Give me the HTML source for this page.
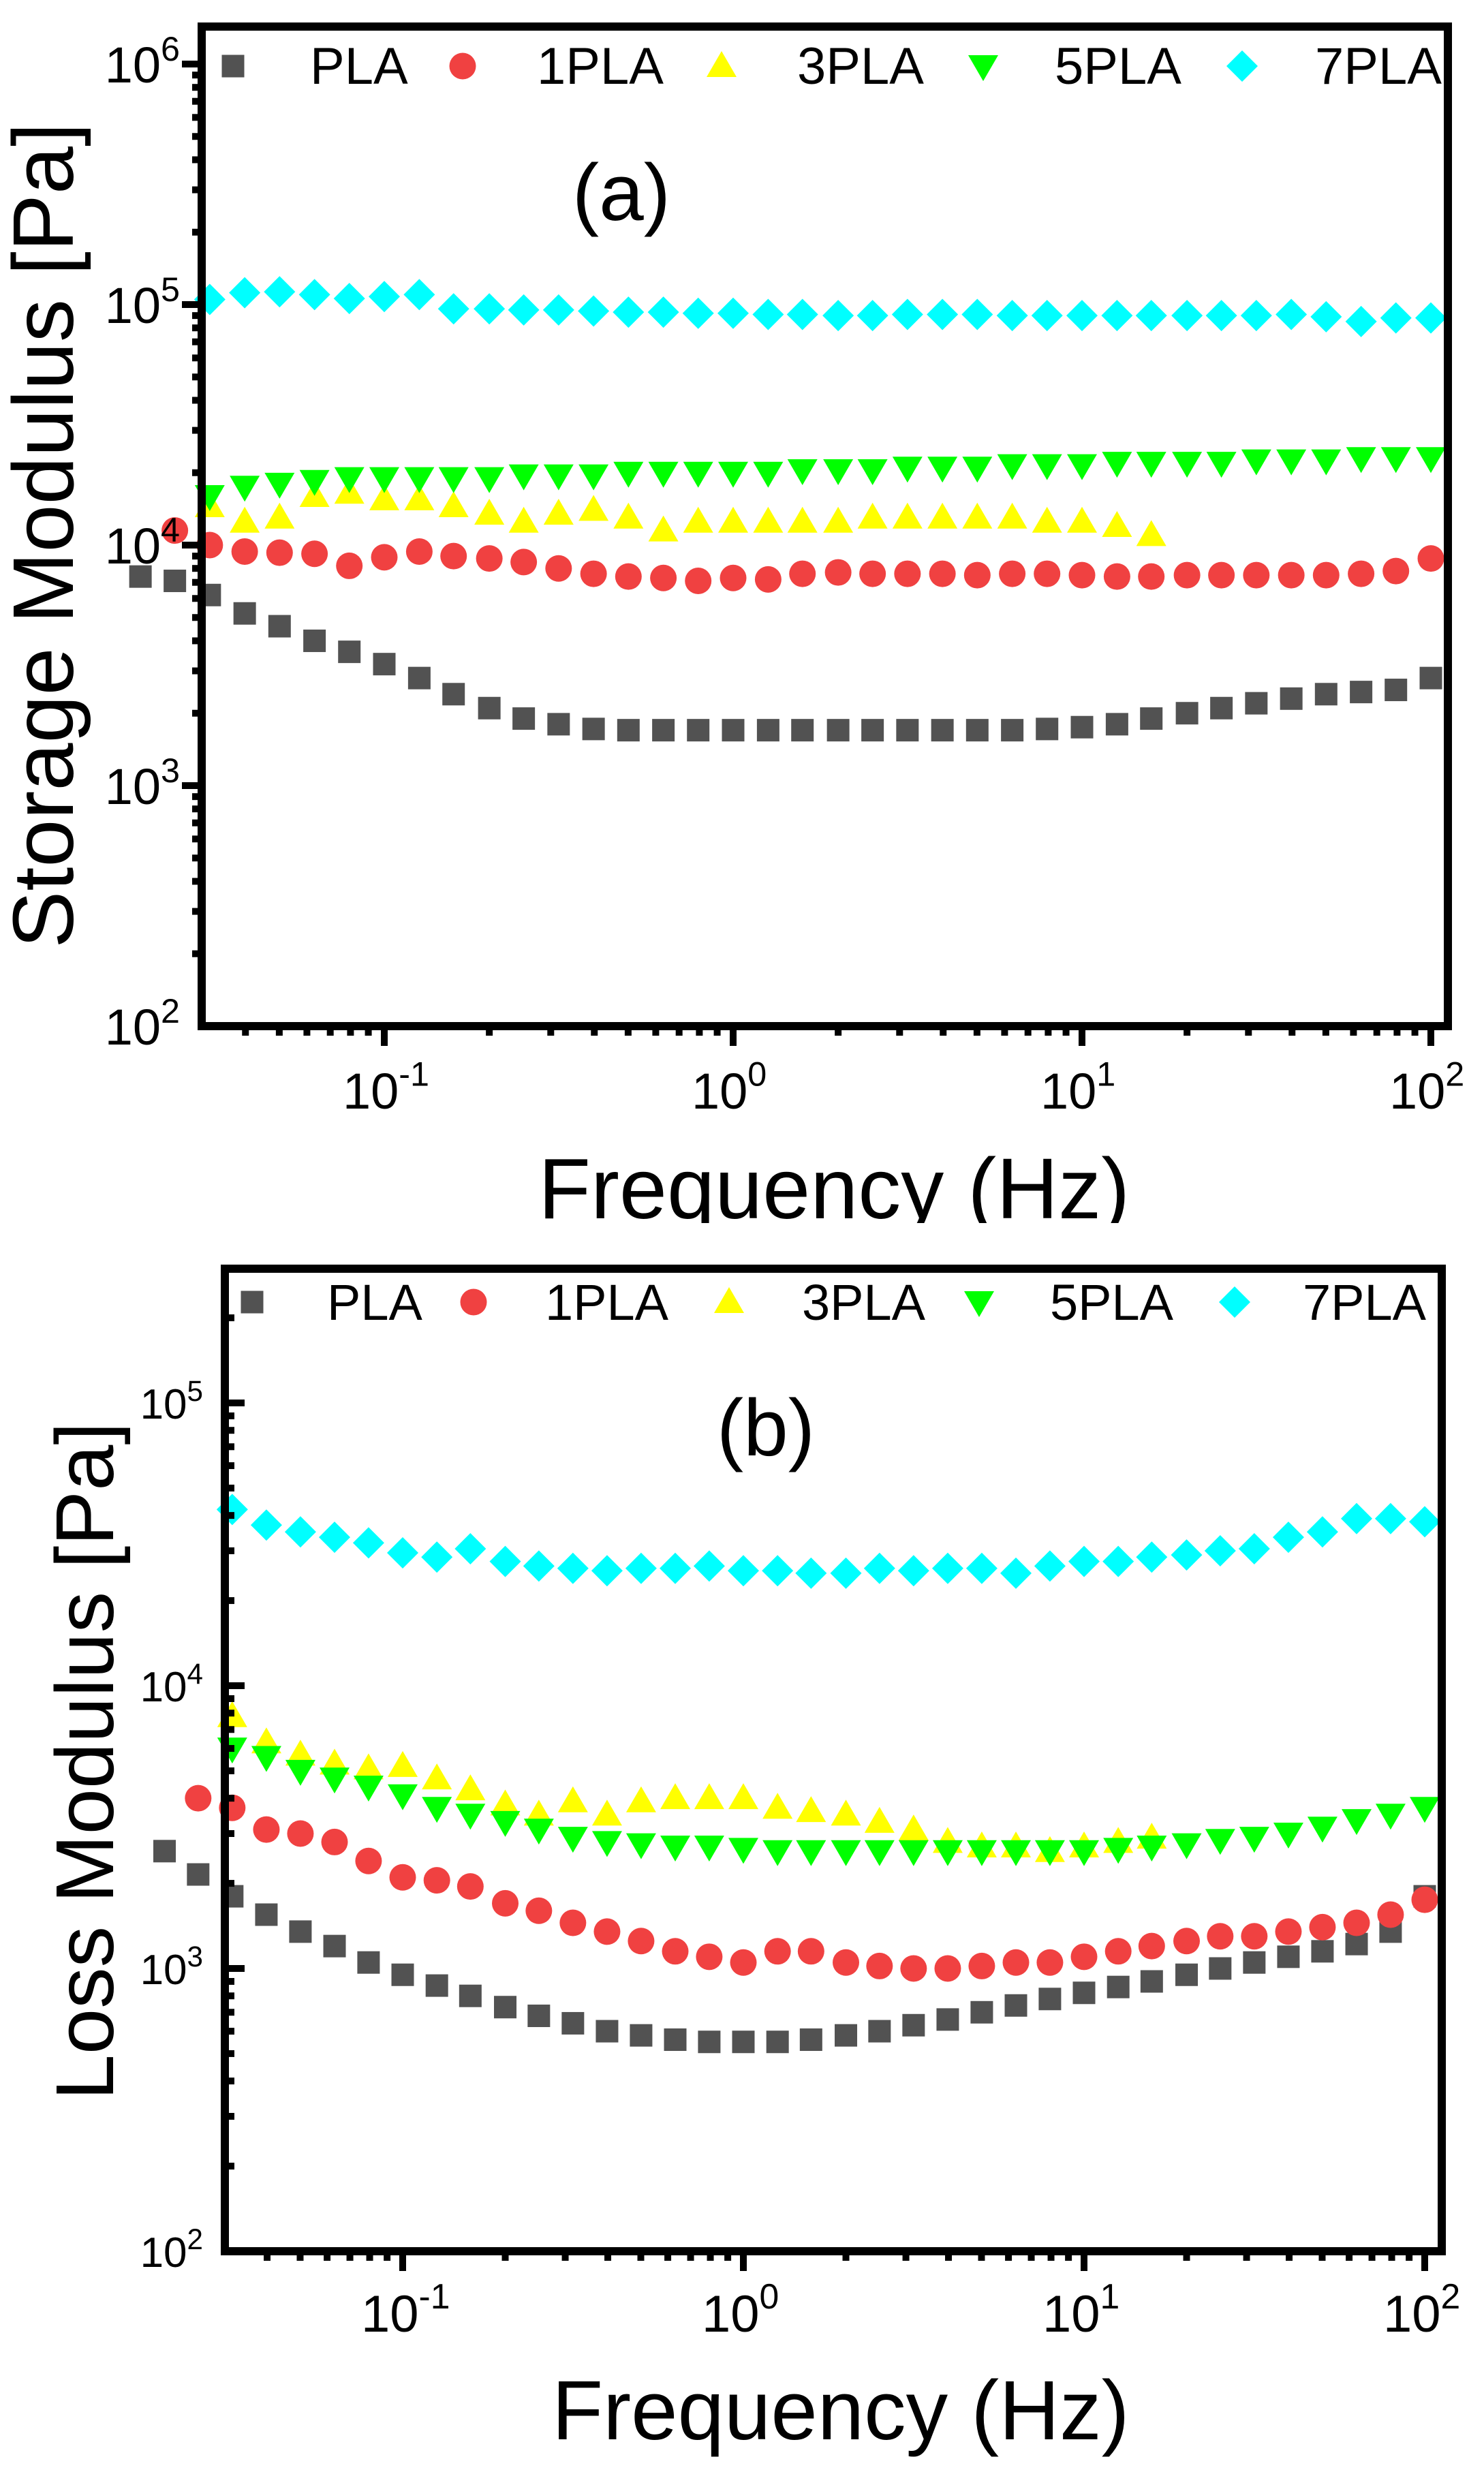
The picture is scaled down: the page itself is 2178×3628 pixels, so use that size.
<!DOCTYPE html>
<html><head><meta charset="utf-8"><title>Storage and Loss Modulus</title>
<style>html,body{margin:0;padding:0;background:#fff}svg{display:block}</style></head>
<body>
<svg id="chart" width="2178" height="3628" viewBox="0 0 2178 3628" xmlns="http://www.w3.org/2000/svg" font-family="'Liberation Sans', Arial, sans-serif">
<rect width="2178" height="3628" fill="#fff"/>
<g id="panelA"></g>
<g id="panelB"></g>
</svg>
<script>
// ---------------- data ----------------
const freqTicks = [0.1, 1, 10, 100];
const xTickExp = ['-1', '0', '1', '2'];
const seriesNames = ['PLA', '1PLA', '3PLA', '5PLA', '7PLA'];
// frequencies (Hz)
const freq = [0.02,0.0251,0.0316,0.0398,0.0501,0.0631,0.0794,0.1,0.126,0.158,0.2,0.251,0.316,0.398,0.501,0.631,0.794,1,1.26,1.58,2,2.51,3.16,3.98,5.01,6.31,7.94,10,12.6,15.8,20,25.1,31.6,39.8,50.1,63.1,79.4,100];
// start index into freq for each series
const startA = [0, 1, 2, 2, 2];
const startB = [0, 1, 2, 2, 2];
// (a) storage modulus [Pa]
const aPLA = [7400,7100,6200,5200,4600,4000,3600,3200,2800,2400,2100,1900,1800,1720,1700,1700,1700,1700,1700,1700,1700,1700,1700,1700,1700,1700,1720,1750,1800,1900,2000,2100,2200,2300,2400,2450,2500,2800];
const a1PLA = [11500,10000,9400,9300,9200,8200,8900,9400,9000,8800,8500,8000,7600,7400,7300,7100,7300,7200,7600,7700,7600,7600,7600,7500,7600,7600,7500,7400,7400,7500,7500,7500,7500,7500,7600,7800,8800];
const a3PLA = [14500,12500,13000,16000,16500,15500,15500,14500,13500,12500,13500,14000,13000,11500,12500,12500,12500,12500,12500,13000,13000,13000,13000,13000,12500,12500,12000,11000];
const a5PLA = [16000,17500,18000,18500,19000,19000,19000,19000,19000,19500,19500,19500,20000,20000,20000,20000,20000,20500,20500,20500,21000,21000,21000,21500,21500,21500,22000,22000,22000,22000,22500,22500,22500,23000,23000,23000];
const a7PLA = [105000,112000,113000,110000,106000,108000,110000,96000,96000,95000,95000,94000,93000,93000,92000,92000,91000,91000,90000,90000,91000,91000,91000,90000,90000,90000,90000,90000,90000,90000,90000,91000,89000,85000,88000,88000];
// (b) loss modulus [Pa]
const bPLA = [2600,2150,1800,1550,1350,1200,1050,950,870,800,730,680,640,600,580,560,550,550,550,560,580,600,630,660,700,740,780,820,860,900,950,1000,1050,1100,1150,1220,1350,1800];
const b1PLA = [4000,3700,3100,3000,2800,2400,2100,2050,1950,1700,1600,1450,1350,1250,1150,1100,1050,1150,1150,1050,1020,1000,1000,1020,1050,1050,1100,1150,1200,1250,1300,1300,1350,1400,1450,1550,1750];
const b3PLA = [7800,6300,5700,5300,5100,5200,4700,4300,3800,3500,3900,3500,3900,4000,4000,4000,3700,3600,3500,3300,3100,2800,2700,2700,2600,2700,2800,2900];
const b5PLA = [6000,5600,5000,4700,4400,4100,3700,3500,3300,3100,2900,2800,2750,2700,2700,2650,2600,2600,2600,2600,2600,2600,2600,2600,2600,2600,2650,2700,2750,2850,2900,3000,3150,3350,3500,3700];
const b7PLA = [42000,37000,35000,33500,32000,29500,28500,30500,27500,26500,26000,25500,26000,26000,26500,25500,25500,25000,25000,26000,25500,26000,26000,25000,26500,27500,27500,28500,29000,30000,30500,33500,35000,39000,39000,38000];

const colors = ['#525252','#f04141','#ffff00','#00ff00','#00ffff'];
const shapes = ['square','circle','up','down','diamond'];
const NS = 'http://www.w3.org/2000/svg';
function el(tag, attrs, parent){ const e=document.createElementNS(NS,tag); for(const k in attrs) e.setAttribute(k,attrs[k]); parent.appendChild(e); return e; }

function marker(g, shape, cx, cy, color){
  let m;
  if(shape==='square') m=el('rect',{x:cx-16.5,y:cy-16.5,width:33,height:33,fill:color},g);
  else if(shape==='circle') m=el('circle',{cx:cx,cy:cy,r:19.5,fill:color},g);
  else if(shape==='up') m=el('polygon',{points:`${cx-22},${cy+16} ${cx+22},${cy+16} ${cx},${cy-22}`,fill:color},g);
  else if(shape==='down') m=el('polygon',{points:`${cx-22},${cy-16} ${cx+22},${cy-16} ${cx},${cy+22}`,fill:color},g);
  else m=el('polygon',{points:`${cx},${cy-23} ${cx+23},${cy} ${cx},${cy+23} ${cx-23},${cy}`,fill:color},g);
  return m;
}

function drawPanel(cfg){
  const g = document.getElementById(cfg.id);
  const X = f => cfg.x1 + cfg.dx*(Math.log10(f)+1);
  const Y = v => cfg.y2 - cfg.dy*(Math.log10(v)-2);
  // data
  cfg.series.forEach((vals,si)=>{
    const sg = el('g',{},g);
    
    
    vals.forEach((v,i)=>{
      const m = marker(sg, shapes[si], X(freq[cfg.start[si]+i]), Y(v), colors[si]);
      
      
    });
  });
  // frame
  const fr = el('rect',{x:cfg.L,y:cfg.T,width:cfg.R-cfg.L,height:cfg.B-cfg.T,fill:'none',stroke:'#000','stroke-width':12},g);
  
  
  // x ticks
  const xt = el('g',{},g);
  
  
  for(let d=-2; d<=2; d++){
    for(let k=1;k<10;k++){
      const f = k*Math.pow(10,d); const x = X(f);
      if(x<cfg.L+4||x>cfg.R-4) continue;
      const len = k===1?29:14;
      el('rect',{x:x-5,y:cfg.B,width:10,height:len},xt);
    }
  }
  freqTicks.forEach((f,i)=>{
    const x = X(f);
    const t = el('text',{x:x-cfg.xlabOff,y:cfg.xlabY,'font-size':cfg.xfs},g);
    t.textContent='10';
    
    
    const s = el('text',{x:x-cfg.xlabOff+cfg.xfs*1.112,y:cfg.xlabY-cfg.xfs*0.45,'font-size':cfg.xfs*0.68},g);
    s.textContent=xTickExp[i];
    
    
  });
  // y ticks
  const yt = el('g',{},g);
  
  
  for(let d=2; d<=6; d++){
    for(let k=1;k<10;k++){
      const v=k*Math.pow(10,d); const y=Y(v);
      if(y<cfg.T+4||y>cfg.B-4) continue;
      const len = k===1?29:14;
      if(cfg.yIn) el('rect',{x:cfg.L,y:y-5,width:len,height:10},yt);
      else el('rect',{x:cfg.L-len,y:y-5,width:len,height:10},yt);
    }
  }
  cfg.yTickExp.forEach(e=>{
    const y = Y(Math.pow(10,+e));
    const s = el('text',{x:cfg.ylabR,y:y+cfg.supDy,'font-size':cfg.yfs*0.68,'text-anchor':'end'},g);
    s.textContent=e;
    
    
    const t = el('text',{x:cfg.ylabR-cfg.yfs*0.68*0.556,y:y+cfg.baseDy,'font-size':cfg.yfs,'text-anchor':'end'},g);
    t.textContent='10';
    
    
  });
  // legend
  const lg = el('g',{},g);
  
  
  seriesNames.forEach((n,i)=>{
    const m = marker(lg, shapes[i], cfg.legSym[i], cfg.legY, colors[i]);
    
    
    const t = el('text',{x:cfg.legTxt[i],y:cfg.legY+26,'font-size':cfg.legFs},lg);
    t.textContent=n;
    
    
  });
  const pl = el('text',{x:cfg.plX,y:cfg.plY,'font-size':118,'text-anchor':'middle'},g);
  pl.textContent=cfg.panelLabel;
  
  
  const yt2 = el('text',{transform:`translate(${cfg.ytX},${cfg.ytEnd}) rotate(-90)`,'font-size':cfg.ytFs,'text-anchor':'end'},g);
  yt2.textContent=cfg.yTitle;
  
  
  const xt2 = el('text',{x:cfg.xtX,y:cfg.xtY,'font-size':cfg.xtFs},g);
  xt2.textContent='Frequency (Hz)';
  
  
}

drawPanel({id:'panelA', series:[aPLA,a1PLA,a3PLA,a5PLA,a7PLA], start:startA,
  L:296,R:2125,T:39,B:1506, x1:564,dx:512, y2:1506,dy:353, yIn:false,
  xlabOff:61, xlabY:1627, xfs:74, ylabR:264, yfs:74, baseDy:27, supDy:-5,
  yTickExp:['2','3','4','5','6'],
  legY:97, legSym:[342,679,1059,1443,1823], legTxt:[455,788,1170,1548,1930], legFs:76,
  panelLabel:'(a)', plX:912, plY:323,
  yTitle:'Storage Modulus [Pa]', ytX:107, ytEnd:180, ytFs:126,
  xtX:790, xtY:1788, xtFs:126});
drawPanel({id:'panelB', series:[bPLA,b1PLA,b3PLA,b5PLA,b7PLA], start:startB,
  L:330,R:2116,T:1862,B:3304, x1:591,dx:500, y2:3304,dy:415, yIn:true,
  xlabOff:61, xlabY:3422, xfs:76, ylabR:298, yfs:62, baseDy:23, supDy:-3,
  yTickExp:['2','3','4','5'],
  legY:1911, legSym:[370,695,1070,1437,1812], legTxt:[480,800,1177,1541,1912], legFs:74,
  panelLabel:'(b)', plX:1124, plY:2136,
  yTitle:'Loss Modulus [Pa]', ytX:166, ytEnd:2087, ytFs:121,
  xtX:810, xtY:3580, xtFs:123});
// clip bottom of panel (a) x-axis title as in reference
const cover = el('rect',{x:600,y:1795,width:1200,height:50,fill:'#fff'},document.getElementById('chart'));


</script>
</body></html>
